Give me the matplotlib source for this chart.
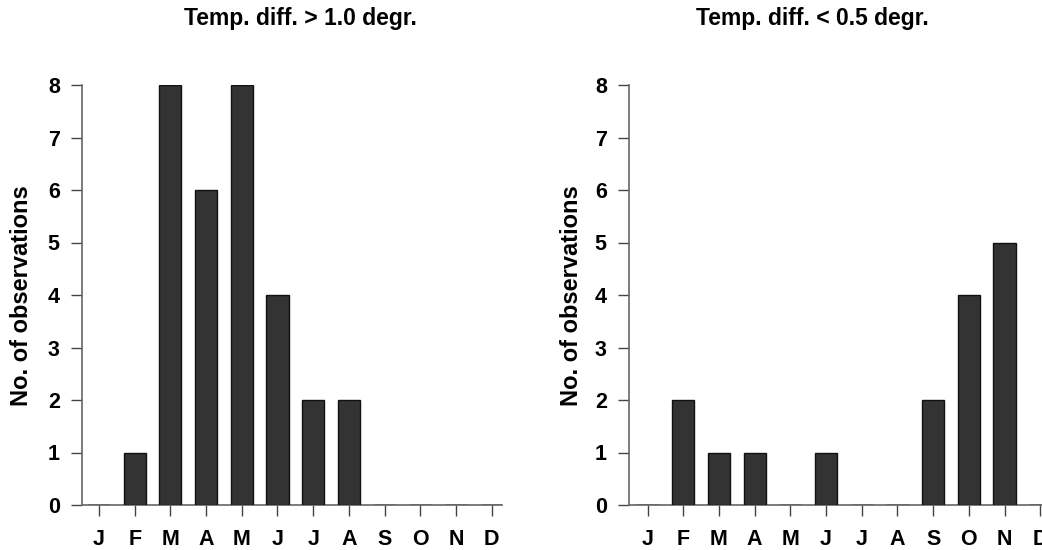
import numpy as np
import matplotlib
matplotlib.use("Agg")
import matplotlib.pyplot as plt

plt.rcParams['font.family'] = ['Liberation Sans', 'DejaVu Sans']

months = ['J', 'F', 'M', 'A', 'M', 'J', 'J', 'A', 'S', 'O', 'N', 'D']
obs_warm = [0, 1, 8, 6, 8, 4, 2, 2, 0, 0, 0, 0]
obs_cold = [0, 2, 1, 1, 0, 1, 0, 0, 2, 4, 5, 0]
titles = ['Temp. diff. > 1.0 degr.', 'Temp. diff. < 0.5 degr.']
ylabel = 'No. of observations'
yticks = [0, 1, 2, 3, 4, 5, 6, 7, 8]

W, H = 1042, 550
fig = plt.figure(figsize=(W / 100, H / 100), dpi=100)

# pixel layout: (left spine, xlim left, title centre, ylabel centre)
panels = [
    (82, -0.476, 300, 22, obs_warm, titles[0]),
    (629, -0.52, 812, 572, obs_cold, titles[1]),
]
spacing = 35.7
top, bottom = 85, 505

for left_px, x0, title_x, ylab_x, vals, title in panels:
    x1 = 11.28
    width_px = (x1 - x0) * spacing
    ax = fig.add_axes([left_px / W, (H - bottom) / H, width_px / W, (bottom - top) / H])
    x = np.arange(len(months))
    ax.bar(x, vals, width=0.62, color='#333333', edgecolor='#111111',
           linewidth=1.0, zorder=3)
    ax.set_xlim(x0, x1)
    ax.set_ylim(0, 8)
    ax.set_xticks(x)
    ax.set_xticklabels(months, fontsize=15.5, fontweight='bold')
    ax.set_yticks(yticks)
    ax.set_yticklabels([str(v) for v in yticks], fontsize=15.5, fontweight='bold')
    ax.tick_params(axis='x', length=8, width=1, color='#444444', pad=9)
    ax.tick_params(axis='y', length=8, width=1, color='#444444', pad=8)
    for s in ['top', 'right']:
        ax.spines[s].set_visible(False)
    for s in ['left', 'bottom']:
        ax.spines[s].set_color('#666666')
        ax.spines[s].set_linewidth(1.2)
        ax.spines[s].set_zorder(2)
    fig.text(title_x / W, 1 - 18 / H, title, ha='center', va='center',
             fontsize=16.5, fontweight='bold')
    fig.text(ylab_x / W, 1 - 296 / H, ylabel, ha='center', va='center',
             rotation=90, fontsize=17, fontweight='bold')

fig.savefig('out.png', dpi=100)
